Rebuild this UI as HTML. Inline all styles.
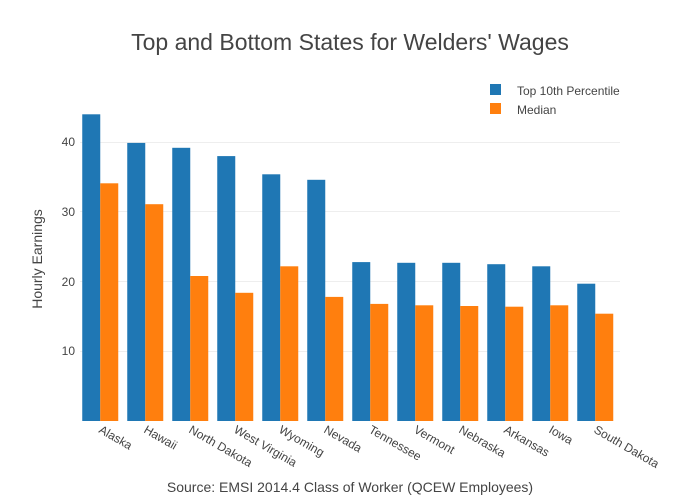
<!DOCTYPE html>
<html><head><style>body{margin:0;background:#fff}svg{display:block}</style></head><body>
<svg width="700" height="500" xmlns="http://www.w3.org/2000/svg" font-family="Liberation Sans, DejaVu Sans, sans-serif">
<rect width="700" height="500" fill="#fff"/>
<g stroke="#eee" stroke-width="1">
<line x1="80" x2="620" y1="351.5" y2="351.5"/>
<line x1="80" x2="620" y1="281.5" y2="281.5"/>
<line x1="80" x2="620" y1="211.5" y2="211.5"/>
<line x1="80" x2="620" y1="142.5" y2="142.5"/>
</g>
<g font-size="12" fill="#444" text-anchor="end">
<text x="75" y="355">10</text><text x="75" y="286">20</text><text x="75" y="216">30</text><text x="75" y="146">40</text>
</g>
<g fill="#1f77b4">
<rect x="82.25" y="114.3" width="18" height="306.7"/>
<rect x="127.25" y="142.9" width="18" height="278.1"/>
<rect x="172.25" y="147.8" width="18" height="273.2"/>
<rect x="217.25" y="156.1" width="18" height="264.9"/>
<rect x="262.25" y="174.3" width="18" height="246.7"/>
<rect x="307.25" y="179.8" width="18" height="241.2"/>
<rect x="352.25" y="262.1" width="18" height="158.9"/>
<rect x="397.25" y="262.8" width="18" height="158.2"/>
<rect x="442.25" y="262.8" width="18" height="158.2"/>
<rect x="487.25" y="264.2" width="18" height="156.8"/>
<rect x="532.25" y="266.3" width="18" height="154.7"/>
<rect x="577.25" y="283.7" width="18" height="137.3"/>
</g>
<g fill="#ff7f0e">
<rect x="100.25" y="183.3" width="18" height="237.7"/>
<rect x="145.25" y="204.2" width="18" height="216.8"/>
<rect x="190.25" y="276.0" width="18" height="145.0"/>
<rect x="235.25" y="292.8" width="18" height="128.2"/>
<rect x="280.25" y="266.3" width="18" height="154.7"/>
<rect x="325.25" y="296.9" width="18" height="124.1"/>
<rect x="370.25" y="303.9" width="18" height="117.1"/>
<rect x="415.25" y="305.3" width="18" height="115.7"/>
<rect x="460.25" y="306.0" width="18" height="115.0"/>
<rect x="505.25" y="306.7" width="18" height="114.3"/>
<rect x="550.25" y="305.3" width="18" height="115.7"/>
<rect x="595.25" y="313.7" width="18" height="107.3"/>
</g>
<g font-size="12" fill="#444">
<text transform="translate(98,432) rotate(30)">Alaska</text>
<text transform="translate(143,432) rotate(30)">Hawaii</text>
<text transform="translate(188,432) rotate(30)">North Dakota</text>
<text transform="translate(233,432) rotate(30)">West Virginia</text>
<text transform="translate(278,432) rotate(30)">Wyoming</text>
<text transform="translate(323,432) rotate(30)">Nevada</text>
<text transform="translate(368,432) rotate(30)">Tennessee</text>
<text transform="translate(413,432) rotate(30)">Vermont</text>
<text transform="translate(458,432) rotate(30)">Nebraska</text>
<text transform="translate(503,432) rotate(30)">Arkansas</text>
<text transform="translate(548,432) rotate(30)">Iowa</text>
<text transform="translate(593,432) rotate(30)">South Dakota</text>
</g>
<text x="350" y="50" font-size="23" fill="#444" text-anchor="middle">Top and Bottom States for Welders' Wages</text>
<text x="350" y="492" font-size="14" fill="#444" text-anchor="middle">Source: EMSI 2014.4 Class of Worker (QCEW Employees)</text>
<text transform="translate(42,259) rotate(-90)" font-size="14" fill="#444" text-anchor="middle">Hourly Earnings</text>
<rect x="490" y="84" width="11" height="11" fill="#1f77b4"/>
<text x="517" y="95" font-size="12" fill="#444">Top 10th Percentile</text>
<rect x="490" y="103" width="11" height="11" fill="#ff7f0e"/>
<text x="517" y="114" font-size="12" fill="#444">Median</text>
</svg>
</body></html>
